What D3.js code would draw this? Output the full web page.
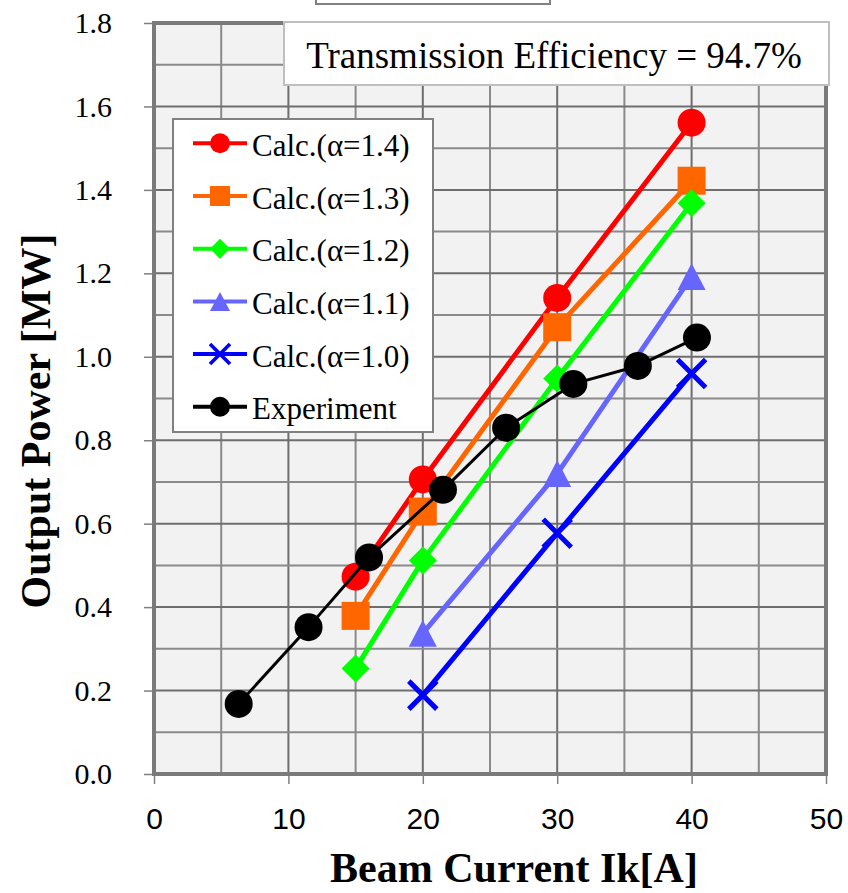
<!DOCTYPE html>
<html>
<head>
<meta charset="utf-8">
<script src="https://cdn.jsdelivr.net/npm/d3@7"></script>
<style>
  body { margin: 0; background: #fff; }
  svg { display: block; }
</style>
</head>
<body>
<div id="chart"></div>
<script>
// values
const CALC_X = [15, 20, 30, 40];
const CALC_X_SHORT = [20, 30, 40];
const CALC_14 = [0.473, 0.706, 1.141, 1.561];
const CALC_13 = [0.379, 0.629, 1.071, 1.422];
const CALC_12 = [0.253, 0.512, 0.948, 1.368];
const CALC_11 = [0.337, 0.720, 1.192];
const CALC_10 = [0.189, 0.577, 0.960];
const EXP_X = [6.3, 11.5, 16.0, 21.5, 26.2, 31.2, 36.0, 40.4];
const EXP_Y = [0.168, 0.352, 0.519, 0.681, 0.830, 0.935, 0.978, 1.046];

const SERIES_NAMES = ["Calc.(\u03b1=1.4)", "Calc.(\u03b1=1.3)", "Calc.(\u03b1=1.2)",
                      "Calc.(\u03b1=1.1)", "Calc.(\u03b1=1.0)", "Experiment"];
const X_TICKS = [0, 10, 20, 30, 40, 50];
const Y_TICKS = [0, 0.2, 0.4, 0.6, 0.8, 1.0, 1.2, 1.4, 1.6, 1.8];
const TITLE = "Transmission Efficiency = 94.7%";
const X_LABEL = "Beam Current Ik[A]";
const Y_LABEL = "Output Power [MW]";

// styles (not data)
const STYLES = [
  {color: "#ff0000", shape: "circle",   lw: 5},
  {color: "#ff6600", shape: "square",   lw: 5},
  {color: "#00ff00", shape: "diamond",  lw: 5},
  {color: "#6666ff", shape: "triangle", lw: 5},
  {color: "#0000ff", shape: "cross",    lw: 5},
  {color: "#000000", shape: "circle",   lw: 3}
];

var series = [
  {xs: CALC_X, ys: CALC_14},
  {xs: CALC_X, ys: CALC_13},
  {xs: CALC_X, ys: CALC_12},
  {xs: CALC_X_SHORT, ys: CALC_11},
  {xs: CALC_X_SHORT, ys: CALC_10},
  {xs: EXP_X, ys: EXP_Y}
].map((s, i) => ({
  name: SERIES_NAMES[i],
  style: STYLES[i],
  points: s.xs.map((x, j) => ({x: x, y: s.ys[j]}))
}));

var width = 848,
    height = 893;
var plot = {left: 154, right: 826, top: 23, bottom: 774};

var svg = d3.select("#chart").append("svg")
  .attr("width", width)
  .attr("height", height);

const x = d3.scaleLinear().domain([0, 50]).range([plot.left, plot.right]);
const y = d3.scaleLinear().domain([0, 1.8]).range([plot.bottom, plot.top]);

// marker path, r is half width
function markerPath(shape, r) {
  var p = d3.path();
  if (shape === "circle") {
    p.arc(0, 0, r, 0, 2 * Math.PI);
  } else if (shape === "square") {
    p.rect(-r, -r, 2 * r, 2 * r);
  } else if (shape === "diamond") {
    p.moveTo(0, -r); p.lineTo(r, 0); p.lineTo(0, r); p.lineTo(-r, 0); p.closePath();
  } else if (shape === "triangle") {
    p.moveTo(0, -r * 0.95); p.lineTo(r, r * 0.95); p.lineTo(-r, r * 0.95); p.closePath();
  } else if (shape === "cross") {
    p.moveTo(-r, -r); p.lineTo(r, r); p.moveTo(r, -r); p.lineTo(-r, r);
  }
  return p.toString();
}

function drawMarker(g, st, r) {
  var m = g.append("path").attr("d", markerPath(st.shape, r));
  if (st.shape === "cross") {
    m.attr("fill", "none").attr("stroke", st.color).attr("stroke-width", r * 0.36);
  } else {
    m.attr("fill", st.color);
  }
  return m;
}

// top box that is cut off by the page
svg.append("rect")
  .attr("x", 316).attr("y", -40).attr("width", 234).attr("height", 44)
  .attr("fill", "#fff").attr("stroke", "#808080").attr("stroke-width", 2);

// plot background
svg.append("rect")
  .attr("x", plot.left).attr("y", plot.top)
  .attr("width", plot.right - plot.left).attr("height", plot.bottom - plot.top)
  .attr("fill", "#f2f2f2");

// grid
var grid = svg.append("g");
d3.range(5, 50, 5).forEach(v => {
  grid.append("line")
    .attr("x1", x(v)).attr("x2", x(v)).attr("y1", plot.top).attr("y2", plot.bottom)
    .attr("stroke", v % 10 === 0 ? "#6e6e6e" : "#8a8a8a").attr("stroke-width", 2);
});
d3.range(1, 18).forEach(k => {
  var v = k / 10;
  grid.append("line")
    .attr("x1", plot.left).attr("x2", plot.right).attr("y1", y(v)).attr("y2", y(v))
    .attr("stroke", k % 2 === 0 ? "#6e6e6e" : "#8a8a8a").attr("stroke-width", 2);
});

// axes
var xAxis = svg.append("g")
  .attr("transform", "translate(0," + plot.bottom + ")")
  .call(d3.axisBottom(x).tickValues(X_TICKS).tickSize(10).tickPadding(24).tickFormat(d3.format("d")));
xAxis.select(".domain").remove();
xAxis.selectAll("line").attr("stroke", "#7f7f7f").attr("stroke-width", 1.5);
xAxis.selectAll("text")
  .attr("font-family", "'Liberation Sans', Arial, sans-serif")
  .attr("font-size", 30).attr("fill", "#000");

var yAxis = svg.append("g")
  .attr("transform", "translate(" + plot.left + ",0)")
  .call(d3.axisLeft(y).tickValues(Y_TICKS).tickSize(10).tickPadding(32).tickFormat(d3.format(".1f")));
yAxis.select(".domain").remove();
yAxis.selectAll("line").attr("stroke", "#7f7f7f").attr("stroke-width", 1.5);
yAxis.selectAll("text")
  .attr("font-family", "'Liberation Serif', 'Times New Roman', serif")
  .attr("font-size", 30).attr("fill", "#000");

// plot border
svg.append("rect")
  .attr("x", plot.left).attr("y", plot.top)
  .attr("width", plot.right - plot.left).attr("height", plot.bottom - plot.top)
  .attr("fill", "none").attr("stroke", "#7a7a7a").attr("stroke-width", 4);

// series
const line = d3.line().x(d => x(d.x)).y(d => y(d.y));
series.forEach(s => {
  var g = svg.append("g");
  g.append("path")
    .datum(s.points)
    .attr("d", line)
    .attr("fill", "none")
    .attr("stroke", s.style.color)
    .attr("stroke-width", s.style.lw)
    .attr("stroke-linejoin", "round");
  s.points.forEach(p => {
    drawMarker(g, s.style, 14).attr("transform", "translate(" + x(p.x) + "," + y(p.y) + ")");
  });
});

// title box
var tbox = svg.append("g");
tbox.append("rect")
  .attr("x", 284).attr("y", 22).attr("width", 545).attr("height", 63)
  .attr("fill", "#fff").attr("stroke", "#bfbfbf").attr("stroke-width", 2);
tbox.append("text")
  .attr("x", 554).attr("y", 68)
  .attr("text-anchor", "middle")
  .attr("font-family", "'Liberation Serif', 'Times New Roman', serif")
  .attr("font-size", 37)
  .text(TITLE);

// legend
var legendBox = svg.append("g");
legendBox.append("rect")
  .attr("x", 173).attr("y", 119).attr("width", 260).attr("height", 313)
  .attr("fill", "#fff").attr("stroke", "#808080").attr("stroke-width", 2);

var legend = legendBox.selectAll("g.item")
  .data(series)
  .enter().append("g")
    .attr("class", "item")
    .attr("transform", (d, i) => "translate(0," + (143.3 + i * 52.7) + ")");

legend.append("line")
  .attr("x1", 193).attr("x2", 247)
  .attr("stroke", d => d.style.color)
  .attr("stroke-width", 4);
legend.each(function(d) {
  drawMarker(d3.select(this), d.style, 10).attr("transform", "translate(220,0)");
});
legend.append("text")
  .attr("x", 252).attr("y", 12.5)
  .attr("font-family", "'Liberation Serif', 'Times New Roman', serif")
  .attr("font-size", 31)
  .text(d => d.name);

// axis titles
svg.append("text")
  .attr("x", 514).attr("y", 882)
  .attr("text-anchor", "middle")
  .attr("font-family", "'Liberation Serif', 'Times New Roman', serif")
  .attr("font-weight", "bold")
  .attr("font-size", 42)
  .text(X_LABEL);

svg.append("text")
  .attr("transform", "translate(50,421) rotate(-90)")
  .attr("text-anchor", "middle")
  .attr("font-family", "'Liberation Serif', 'Times New Roman', serif")
  .attr("font-weight", "bold")
  .attr("font-size", 42)
  .text(Y_LABEL);
</script>
</body>
</html>
